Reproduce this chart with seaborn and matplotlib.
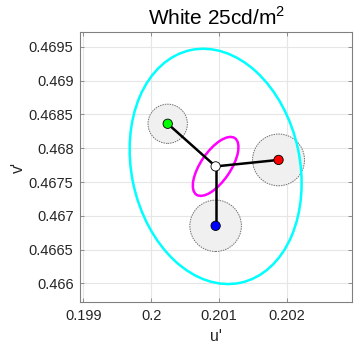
import numpy as np
import pandas as pd
import matplotlib
matplotlib.use("Agg")
import matplotlib.pyplot as plt
from matplotlib.patches import Ellipse, Circle
import seaborn as sns

# ---- data ----
names = ["white", "green", "red", "blue"]
u_vals = [0.200951, 0.200245, 0.201878, 0.200951]
v_vals = [0.467731, 0.468362, 0.467827, 0.466852]
dot_colors = ["#ffffff", "#00ff00", "#ff0000", "#0000ff"]
circle_radius = [0.000290, 0.000383, 0.000380]  # green, red, blue

# ellipses around the white point: (semi-major, semi-minor, angle deg)
cyan_ellipse = (0.00176, 0.00124, 102.0)
magenta_ellipse = (0.000505, 0.000220, 56.0)

x_ticks = [0.199, 0.200, 0.201, 0.202]
x_ticklabels = ["0.199", "0.2", "0.201", "0.202"]
y_ticks = [0.466, 0.4665, 0.467, 0.4675, 0.468, 0.4685, 0.469, 0.4695]
y_ticklabels = ["0.466", "0.4665", "0.467", "0.4675", "0.468", "0.4685", "0.469", "0.4695"]

sns.set_theme(style="whitegrid")
plt.rcParams["font.family"] = ["Liberation Sans", "DejaVu Sans"]
plt.rcParams["mathtext.fontset"] = "custom"
plt.rcParams["mathtext.rm"] = "Liberation Sans"

fig = plt.figure(figsize=(3.59, 3.50), dpi=100)
ax = fig.add_axes([0.2242, 0.1363, 0.7563, 0.7723])
ax.set_facecolor("white")

cu, cv = u_vals[0], v_vals[0]

# grey circles
for i in range(1, 4):
    ax.add_patch(Circle((u_vals[i], v_vals[i]), circle_radius[i - 1],
                        facecolor="#f0f0f0", edgecolor="#707070",
                        linestyle=(0, (1.5, 1.0)), linewidth=0.7, zorder=2))

# ellipses
a, b, ang = cyan_ellipse
ax.add_patch(Ellipse((cu, cv), 2 * a, 2 * b, angle=ang, fill=False,
                     edgecolor="#00ffff", linewidth=1.8, zorder=3))
a, b, ang = magenta_ellipse
ax.add_patch(Ellipse((cu, cv), 2 * a, 2 * b, angle=ang, fill=False,
                     edgecolor="#ff00ff", linewidth=1.8, zorder=3))

# connecting lines
for i in range(1, 4):
    seg = pd.DataFrame({"u": [cu, u_vals[i]], "v": [cv, v_vals[i]]})
    sns.lineplot(data=seg, x="u", y="v", color="black", linewidth=1.8,
                 sort=False, estimator=None, ax=ax, zorder=4)

df = pd.DataFrame({"u": u_vals, "v": v_vals, "name": names})
sns.scatterplot(data=df, x="u", y="v", hue="name", palette=dict(zip(names, dot_colors)),
                s=45, edgecolor="black", linewidth=0.6, legend=False, ax=ax, zorder=5)

ax.set_xlim(0.19896, 0.20296)
ax.set_ylim(0.46572, 0.46972)
ax.set_xticks(x_ticks)
ax.set_xticklabels(x_ticklabels)
ax.set_yticks(y_ticks)
ax.set_yticklabels(y_ticklabels)
ax.grid(True, color="#e6e6e6", linewidth=0.8)
ax.set_axisbelow(True)
ax.tick_params(axis="both", direction="in", length=3, width=0.6, colors="#808080",
               labelcolor="#262626", labelsize=10.5, top=True, right=True,
               bottom=True, left=True, pad=5)
for sp in ax.spines.values():
    sp.set_color("#808080")
    sp.set_linewidth(0.8)

ax.set_xlabel("u'", fontsize=11.5, color="#262626", labelpad=4)
ax.set_ylabel("v'", fontsize=11.5, color="#262626", labelpad=2)
ax.set_title("White 25cd/m$^2$", fontsize=15, color="black", pad=5)

fig.savefig("out.png", dpi=100)
